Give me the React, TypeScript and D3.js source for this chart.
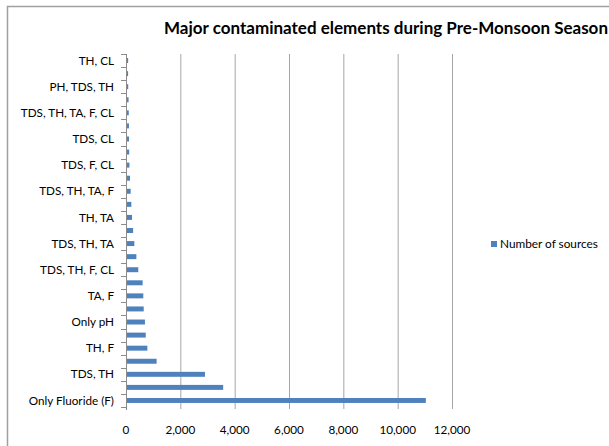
import { scaleBand, scaleLinear, format } from "d3"

const W = 609, H = 446
const ML = 126, MT = 54, PW = 326, PH = 353

// bottom to top, as drawn in the chart
const categories = [
  "Only Fluoride (F)", "Only TDS", "TDS, TH", "TDS, F", "TH, F", "TDS, TH, F",
  "Only pH", "Only TH", "TA, F", "TDS, TA", "TDS, TH, F, CL", "TH, TA, F",
  "TDS, TH, TA", "TDS, TA, F", "TH, TA", "Only CL", "TDS, TH, TA, F", "F, CL",
  "TDS, F, CL", "TH, F, CL", "TDS, CL", "TA, CL", "TDS, TH, TA, F, CL", "PH, TDS",
  "PH, TDS, TH", "TH, TA, CL", "TH, CL",
]
const sources = [
  11000, 3540, 2870, 1090, 750, 690, 660, 615, 600, 575, 415, 345,
  270, 225, 185, 160, 135, 110, 90, 80, 75, 72, 65, 58,
  45, 40, 42,
]
const xTicks = [0, 2000, 4000, 6000, 8000, 10000, 12000]
const seriesName = "Number of sources"
const title = "Major contaminated elements during Pre-Monsoon Season"

const FONT = "Lato, 'Open Sans', sans-serif"
const BLUE = "#4F81BD"

export default function App() {
  const x = scaleLinear().domain([0, 12000]).range([0, PW])
  const y = scaleBand<string>().domain([...categories].reverse()).range([0, PH]).paddingInner(0.62).paddingOuter(0.31)
  const step = y.step()
  const fmt = format(",")

  return (
    <svg width={W} height={H} style={{ position: "absolute", left: 0, top: 0, background: "#fff" }}>
      {/* chart frame */}
      <path d={`M7.5,${H} V6.5 H${W}`} fill="none" stroke="#a0a0a0" strokeWidth={1.5} />

      <text x={386} y={34} textAnchor="middle" fontFamily={FONT} fontWeight={700} fontSize={17} fill="#000">
        {title}
      </text>

      <g transform={`translate(${ML},${MT})`}>
        {xTicks.filter(t => t > 0).map(t => (
          <line key={t} x1={x(t) + 0.5} x2={x(t) + 0.5} y1={0} y2={PH + 2} stroke="#a6a6a6" strokeWidth={1} />
        ))}

        {categories.map((c, i) => (
          <rect key={c} x={1} y={y(c)} width={x(sources[i])} height={y.bandwidth()} fill={BLUE} />
        ))}

        {/* category axis */}
        <line x1={0.5} x2={0.5} y1={0} y2={PH + 3} stroke="#8c8c8c" />
        {categories.map((c, i) => (
          <line key={"t" + c} x1={-5} x2={0} y1={Math.round(i * step) + 0.5} y2={Math.round(i * step) + 0.5} stroke="#8c8c8c" />
        ))}
        <line x1={-5} x2={0} y1={PH + 0.5} y2={PH + 0.5} stroke="#8c8c8c" />
        {categories.map((c, i) => i % 2 === 0 ? (
          <text key={"l" + c} x={-12} y={(y(c) ?? 0) + y.bandwidth() / 2} dy="0.35em" textAnchor="end"
            fontFamily={FONT} fontSize={11.7} fill="#000">{c}</text>
        ) : null)}

        {xTicks.map(t => (
          <text key={"x" + t} x={x(t)} y={PH + 27} textAnchor="middle" fontFamily={FONT} fontSize={11.7} fill="#000">
            {fmt(t)}
          </text>
        ))}
      </g>

      <rect x={491} y={241} width={6} height={6} fill={BLUE} />
      <text x={500} y={248} fontFamily={FONT} fontSize={11.8} fill="#000">{seriesName}</text>
    </svg>
  )
}
